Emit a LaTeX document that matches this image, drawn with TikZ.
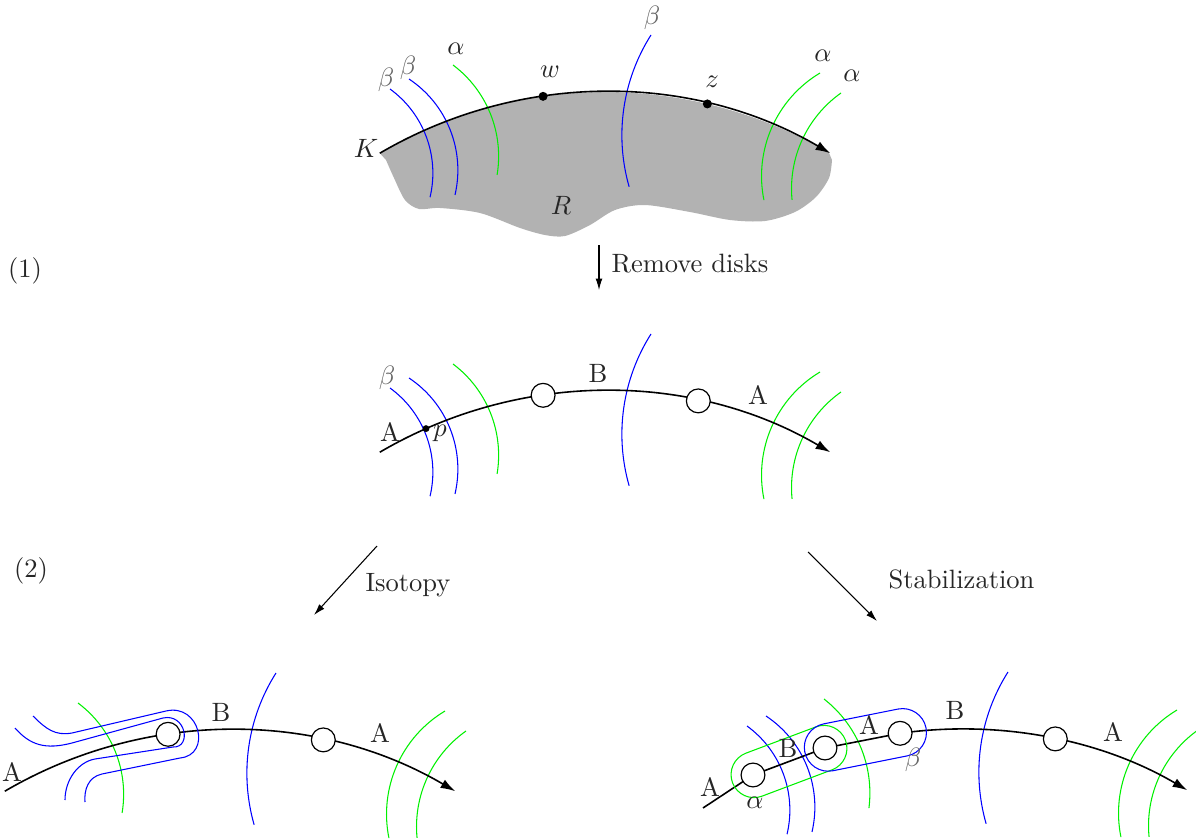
\documentclass[tikz,border=0pt]{standalone}
\usetikzlibrary{arrows.meta,calc}
\definecolor{pblue}{RGB}{0,0,255}
\definecolor{pgreen}{RGB}{0,240,0}
\colorlet{txt}{black!85}
\colorlet{btxt}{black!60}
\newcommand\crvBa{\draw[bl] (390,89) arc[start angle=-54,end angle=13.4,radius=104];}
\newcommand\crvBb{\draw[bl] (409,79) arc[start angle=-56.4,end angle=13.1,radius=109.4];}
\newcommand\crvAa{\draw[gr] (453,65) arc[start angle=-53.1,end angle=9.4,radius=114.2];}
\newcommand\crvBc{\draw[bl] (651,35) arc[start angle=-147.6,end angle=-196,radius=187];}
\newcommand\crvAb{\draw[gr] (820,73) arc[start angle=-120.9,end angle=-191.5,radius=120.2];}
\newcommand\crvAc{\draw[gr] (841,93) arc[start angle=-125.3,end angle=-185.5,radius=117.2];}
\begin{document}
\begin{tikzpicture}[x=0.377pt,y=-0.377pt,
 kline/.style={line width=0.6pt,black},
 karrow/.style={kline,-{Latex[length=5.5pt,width=3.6pt]}},
 sarrow/.style={line width=0.4pt,black,-{Latex[length=4.3pt,width=2.6pt]}},
 bl/.style={draw=pblue,line width=0.4pt},
 gr/.style={draw=pgreen,line width=0.4pt},
 hole/.style={circle,draw=black,fill=white,line width=0.45pt,minimum size=9pt,inner sep=0pt},
 dotn/.style={circle,fill=black,inner sep=0pt,minimum size=3.4pt},
 sdot/.style={circle,fill=black,inner sep=0pt,minimum size=2.6pt},
 lbl/.style={text=txt,inner sep=0pt},
 blbl/.style={text=btxt,inner sep=0pt},
 gstad/.style={rectangle,draw=pgreen,line width=0.4pt,minimum width=45.5pt,minimum height=17.3pt,rounded corners=8.65pt,inner sep=0pt},
 bstad/.style={rectangle,draw=pblue,line width=0.4pt,minimum width=46.6pt,minimum height=18pt,rounded corners=9pt,inner sep=0pt}]
\useasboundingbox (0,0) rectangle (1196,839);

% ---------- top panel ----------
\coordinate (Kc) at (605,537);
\fill[black!30] ($(Kc)+(-120.4:445)$) arc[start angle=-120.4,end angle=-59.8,radius=445]
  -- plot[smooth] coordinates {(832,160) (829,178) (816,197) (795,212) (765,221) (730,220) (690,212) (645,205) (615,210) (590,225) (565,236) (545,235) (520,228) (480,213) (440,208) (419,209) (405,200) (394,178) (386,160)} -- cycle;
\draw[white,line width=0.9pt] ($(Kc)+(-120.4:446.5)$) arc[start angle=-120.4,end angle=-61,radius=446.5];
\crvBa \crvBb \crvAa \crvBc \crvAb \crvAc
\draw[karrow] ($(Kc)+(-120.4:445)$) arc[start angle=-120.4,end angle=-59.6,radius=445];
\node[dotn] (w) at ($(Kc)+(-98:445)$) {};
\node[dotn] (z) at ($(Kc)+(-76.7:445)$) {};
\node[lbl] (lK) at (366,148) {$K$};
\node[lbl] (lR) at (561,205) {$R$};
\node[lbl] (lw) at (550,72) {$w$};
\node[lbl] (lz) at (712,82) {$z$};
\node[blbl] (lb1) at (386,80) {$\beta$};
\node[blbl] (lb2) at (408,68) {$\beta$};
\node[lbl] (la1) at (456,49) {$\alpha$};
\node[blbl] (lb3) at (652,18) {$\beta$};
\node[lbl] (la2) at (823,56) {$\alpha$};
\node[lbl] (la3) at (852,76) {$\alpha$};

% ---------- arrows between panels ----------
\coordinate (rd1) at (599,245);
\coordinate (rd2) at (599,290);
\draw[sarrow] (rd1) -- (rd2);
\node[lbl,anchor=base west] (lrd) at (611,272) {Remove disks};
\node[lbl] (n1) at (25,271) {(1)};
\node[lbl] (n2) at (31,571) {(2)};
\coordinate (i1) at (377,546);
\coordinate (i2) at (314,615);
\draw[sarrow] (i1) -- (i2);
\node[lbl,anchor=base west] (liso) at (365,591) {Isotopy};
\coordinate (s1) at (808,552);
\coordinate (s2) at (877,621);
\draw[sarrow] (s1) -- (s2);
\node[lbl,anchor=base west] (lstab) at (888,588) {Stabilization};

% ---------- middle panel ----------
\begin{scope}[shift={(0,299)}]
\coordinate (Kc2) at (605,537);
\crvBa \crvBb \crvAa \crvBc \crvAb \crvAc
\draw[karrow] ($(Kc2)+(-120.4:445)$) arc[start angle=-120.4,end angle=-59.6,radius=445];
\node[hole] (m1) at (543.1,96.3) {};
\node[hole] (m2) at (698.3,101.9) {};
\node[sdot] (pp) at (426,129.6) {};
\node[blbl] (mb) at (387,79) {$\beta$};
\node[lbl] (mA1) at (390,133) {A};
\node[lbl] (mp) at (440,134) {$p$};
\node[lbl] (mB) at (598,74) {B};
\node[lbl] (mA2) at (758,96) {A};
\end{scope}

% ---------- bottom-left panel ----------
\begin{scope}[shift={(-375,638)}]
\coordinate (Kc3) at (605,537);
\crvAa \crvBc \crvAb \crvAc
\draw[karrow] ($(Kc3)+(-120.4:445)$) arc[start angle=-120.4,end angle=-59.6,radius=445];
\end{scope}
\draw[bl] (15,728) .. controls (30,745) and (45,750) .. (72,743) -- (163,718)
  .. controls (186,713) and (192,748) .. (173,747) -- (95,759)
  .. controls (78,762) and (65,780) .. (65,800);
\draw[bl] (33,716) .. controls (46,729) and (55,736) .. (72,733) -- (166,711)
  .. controls (200,703) and (212,755) .. (180,758) -- (102,774)
  .. controls (88,777) and (84,790) .. (85,802);
\begin{scope}[shift={(-375,638)}]
\node[hole] (l1) at (543.1,96.3) {};
\node[hole] (l2) at (698.3,101.9) {};
\node[lbl] (lA1) at (387,134) {A};
\node[lbl] (lB) at (596,74) {B};
\node[lbl] (lA2) at (755,95) {A};
\end{scope}

% ---------- bottom-right panel ----------
\begin{scope}[shift={(357,637)}]
\coordinate (Kc4) at (605,537);
\crvBa \crvBb \crvBc \crvAb \crvAc
\draw[gr] (467,62) arc[start angle=-52,end angle=7.2,radius=119.4];
\coordinate (ks) at (346,171);
\draw[karrow] (ks) -- (396,138) -- (468,111) -- (543.1,96.3) arc[start angle=-98,end angle=-59.6,radius=445];
\node[gstad,rotate=20.6] (sg) at (432,124.5) {};
\node[bstad,rotate=11.3] (sb) at (508.4,102.9) {};
\node[hole] (q1) at (396,138) {};
\node[hole] (q2) at (468,111) {};
\node[hole] (q3) at (543.1,96.3) {};
\node[hole] (q4) at (698.3,101.9) {};
\node[lbl] (rA1) at (353,150) {A};
\node[lbl] (ral) at (398,166) {$\alpha$};
\node[lbl] (rB1) at (431,111) {B};
\node[lbl] (rA2) at (512,88) {A};
\node[blbl] (rbe) at (556,123) {$\beta$};
\node[lbl] (rB2) at (598,73) {B};
\node[lbl] (rA3) at (756,95) {A};
\end{scope}
\end{tikzpicture}
\end{document}
